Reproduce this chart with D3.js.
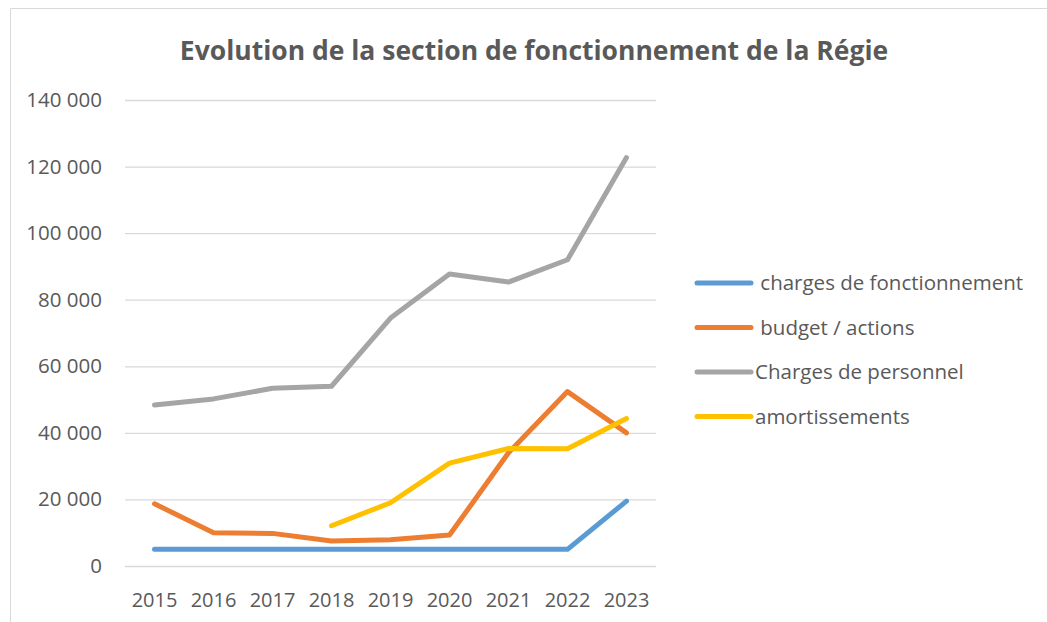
<!DOCTYPE html>
<html>
<head>
<meta charset="utf-8">
<script src="https://cdn.jsdelivr.net/npm/d3@7"></script>
<style>
  body { margin: 0; background: #fff; }
  text { font-family: "Open Sans", "Noto Sans", sans-serif; fill: #595959; }
</style>
</head>
<body>
<div id="chart"></div>
<script>
var years = ["2015", "2016", "2017", "2018", "2019", "2020", "2021", "2022", "2023"];
var chargesFonct = [5000, 5000, 5000, 5000, 5000, 5000, 5000, 5000, 19500];
var budgetActions = [18700, 10000, 9800, 7500, 7900, 9300, 34000, 52400, 40000];
var chargesPersonnel = [48400, 50200, 53400, 54000, 74500, 87700, 85300, 92000, 122700];
var amortissements = [null, null, null, 12100, 19000, 30900, 35300, 35200, 44300];
var yTicks = [0, 20000, 40000, 60000, 80000, 100000, 120000, 140000];

var series = [
  { name: " charges de fonctionnement", values: chargesFonct, color: "#5b9bd5" },
  { name: " budget / actions", values: budgetActions, color: "#ed7d31" },
  { name: "Charges de personnel", values: chargesPersonnel, color: "#a5a5a5" },
  { name: "amortissements", values: amortissements, color: "#ffc000" }
];

var width = 1047, height = 622;
var svg = d3.select("#chart").append("svg")
  .attr("width", width)
  .attr("height", height);

// frame
svg.append("path")
  .attr("d", "M10.5,622 V8.5 H1047")
  .attr("fill", "none")
  .attr("stroke", "#d9d9d9")
  .attr("stroke-width", 1);

svg.append("text")
  .attr("x", 534)
  .attr("y", 60)
  .attr("text-anchor", "middle")
  .style("font-size", "26.5px")
  .style("font-weight", "bold")
  .text("Evolution de la section de fonctionnement de la Régie");

var x = d3.scaleBand().domain(years).range([125, 656]);
var y = d3.scaleLinear().domain([0, 140000]).range([566, 100]);

var fmt = function(d) { return d3.format(",")(d).replace(/,/g, " "); };

var yAxis = svg.append("g")
  .attr("transform", "translate(125,0)")
  .call(d3.axisLeft(y).tickValues(yTicks).tickSize(-531).tickFormat(fmt));
yAxis.select(".domain").remove();
yAxis.selectAll(".tick line").attr("stroke", "#d9d9d9").attr("stroke-width", 1.3);
yAxis.selectAll(".tick text")
  .attr("x", -23)
  .style("font-size", "20.5px")
  .style("font-family", "Open Sans, sans-serif")
  .attr("fill", "#595959");

var xAxis = svg.append("g")
  .attr("transform", "translate(0,566)")
  .call(d3.axisBottom(x).tickSize(0));
xAxis.select(".domain").remove();
xAxis.selectAll(".tick text")
  .attr("dy", 0)
  .attr("y", 41)
  .style("font-size", "20px")
  .style("font-family", "Open Sans, sans-serif")
  .attr("fill", "#595959");

var line = d3.line()
  .defined(function(d) { return d != null; })
  .x(function(d, i) { return x(years[i]) + x.bandwidth() / 2; })
  .y(function(d) { return y(d); });

svg.selectAll(".series")
  .data(series)
  .enter().append("path")
  .attr("class", "series")
  .attr("d", function(s) { return line(s.values); })
  .attr("fill", "none")
  .attr("stroke", function(s) { return s.color; })
  .attr("stroke-width", 5)
  .attr("stroke-linecap", "round")
  .attr("stroke-linejoin", "round");

var legend = svg.selectAll(".legend")
  .data(series)
  .enter().append("g")
  .attr("class", "legend")
  .attr("transform", function(d, i) { return "translate(697," + (283 + i * 44.5) + ")"; });

legend.append("line")
  .attr("x1", 0).attr("x2", 54)
  .attr("stroke", function(d) { return d.color; })
  .attr("stroke-width", 5)
  .attr("stroke-linecap", "round");

legend.append("text")
  .attr("x", 58)
  .attr("y", 7)
  .style("font-size", "20.5px")
  .style("white-space", "pre")
  .attr("xml:space", "preserve")
  .text(function(d) { return d.name; });
</script>
</body>
</html>
